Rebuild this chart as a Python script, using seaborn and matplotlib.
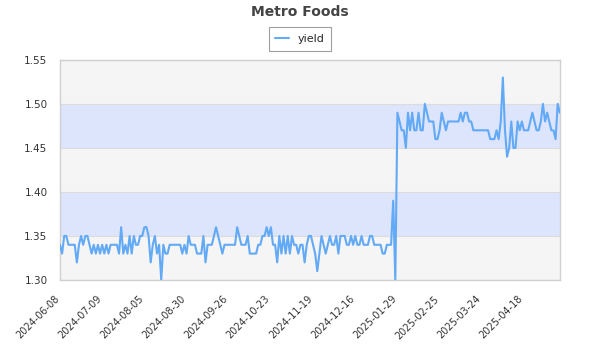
import numpy as np
import pandas as pd
import matplotlib
matplotlib.use("Agg")
import matplotlib.pyplot as plt
import matplotlib.transforms as mtransforms
import seaborn as sns

# Chart text
chart_title = "Metro Foods"
series_name = "yield"

# Dates shown on the x axis (one label every 20 observations)
tick_dates = [
    "2024-06-08", "2024-07-09", "2024-08-05", "2024-08-30",
    "2024-09-26", "2024-10-23", "2024-11-19", "2024-12-16",
    "2025-01-29", "2025-02-25", "2025-03-24", "2025-04-18",
]
tick_every = 20

# Daily yield observations
yield_values = [
    # 2024-06-08 ..
    1.34, 1.33, 1.35, 1.35, 1.34, 1.34, 1.34, 1.34, 1.32, 1.34,
    1.35, 1.34, 1.35, 1.35, 1.34, 1.33, 1.34, 1.33, 1.34, 1.33,
    # 2024-07-09 ..
    1.34, 1.33, 1.34, 1.33, 1.34, 1.34, 1.34, 1.34, 1.33, 1.36,
    1.33, 1.34, 1.33, 1.35, 1.33, 1.35, 1.34, 1.34, 1.35, 1.35,
    # 2024-08-05 ..
    1.36, 1.36, 1.35, 1.32, 1.34, 1.35, 1.33, 1.34, 1.30, 1.34,
    1.33, 1.33, 1.34, 1.34, 1.34, 1.34, 1.34, 1.34, 1.33, 1.34,
    # 2024-08-30 ..
    1.33, 1.35, 1.34, 1.34, 1.34, 1.33, 1.33, 1.33, 1.35, 1.32,
    1.34, 1.34, 1.34, 1.35, 1.36, 1.35, 1.34, 1.33, 1.34, 1.34,
    # 2024-09-26 ..
    1.34, 1.34, 1.34, 1.34, 1.36, 1.35, 1.34, 1.34, 1.34, 1.35,
    1.33, 1.33, 1.33, 1.33, 1.34, 1.34, 1.35, 1.35, 1.36, 1.35,
    # 2024-10-23 ..
    1.36, 1.34, 1.34, 1.32, 1.35, 1.33, 1.35, 1.33, 1.35, 1.33,
    1.35, 1.34, 1.34, 1.33, 1.34, 1.34, 1.32, 1.34, 1.35, 1.35,
    # 2024-11-19 ..
    1.34, 1.33, 1.31, 1.33, 1.35, 1.34, 1.33, 1.34, 1.35, 1.34,
    1.34, 1.35, 1.33, 1.35, 1.35, 1.35, 1.34, 1.34, 1.35, 1.34,
    # 2024-12-16 ..
    1.35, 1.34, 1.34, 1.35, 1.34, 1.34, 1.34, 1.35, 1.35, 1.34,
    1.34, 1.34, 1.34, 1.33, 1.33, 1.34, 1.34, 1.34, 1.39, 1.30,
    # 2025-01-29 ..
    1.49, 1.48, 1.47, 1.47, 1.45, 1.49, 1.47, 1.49, 1.47, 1.47,
    1.49, 1.47, 1.47, 1.50, 1.49, 1.48, 1.48, 1.48, 1.46, 1.46,
    # 2025-02-25 ..
    1.47, 1.49, 1.48, 1.47, 1.48, 1.48, 1.48, 1.48, 1.48, 1.48,
    1.49, 1.48, 1.49, 1.49, 1.48, 1.48, 1.47, 1.47, 1.47, 1.47,
    # 2025-03-24 ..
    1.47, 1.47, 1.47, 1.47, 1.46, 1.46, 1.46, 1.47, 1.46, 1.48,
    1.53, 1.47, 1.44, 1.45, 1.48, 1.45, 1.45, 1.48, 1.47, 1.48,
    # 2025-04-18 ..
    1.47, 1.47, 1.47, 1.48, 1.49, 1.48, 1.47, 1.47, 1.48, 1.50,
    1.48, 1.49, 1.48, 1.47, 1.47, 1.46, 1.50, 1.49,
]

y_min, y_max, y_step = 1.30, 1.55, 0.05

line_color = "#62a9f6"
band_gray = "#f5f5f5"
band_blue = "#dde5fd"
grid_color = "#dcdcdc"
text_color = "#333333"

sns.set_theme(style="white")
plt.rcParams["font.family"] = ["DejaVu Sans"]

df = pd.DataFrame({
    "obs": np.arange(len(yield_values)),
    series_name: yield_values,
})

fig = plt.figure(figsize=(6, 3.5), dpi=100)
ax = fig.add_axes([0.1, 0.2, 0.833, 0.629])
ax.set_facecolor(band_gray)

# Alternating horizontal bands between the y gridlines
edges = np.round(np.arange(y_min, y_max + y_step / 2, y_step), 2)
for k in range(len(edges) - 1):
    if k % 2 == 1:
        ax.axhspan(edges[k], edges[k + 1], color=band_blue, zorder=0, lw=0)
for e in edges:
    ax.axhline(e, color=grid_color, lw=0.8, zorder=0.5)

sns.lineplot(data=df, x="obs", y=series_name, ax=ax, color=line_color,
             linewidth=1.5, label=series_name, zorder=3)

ax.set_xlim(0, len(yield_values) - 1)
ax.set_ylim(y_min, y_max)
ax.set_yticks(edges)
ax.set_yticklabels([f"{v:.2f}" for v in edges], fontsize=7.5, color=text_color)
ax.set_xticks(np.arange(0, len(tick_dates) * tick_every, tick_every))
ax.set_xticklabels(tick_dates, rotation=45, ha="right", rotation_mode="anchor",
                   fontsize=7, color=text_color)
ax.tick_params(axis="y", length=0, pad=9)
ax.tick_params(axis="x", length=0, pad=10)

# nudge the rotated date labels slightly left of their tick
shift = mtransforms.ScaledTranslation(-6 / 100, 0, fig.dpi_scale_trans)
for lbl in ax.get_xticklabels():
    lbl.set_transform(lbl.get_transform() + shift)

ax.set_xlabel("")
ax.set_ylabel("")

for side in ax.spines.values():
    side.set_color("#d0d0d0")
    side.set_linewidth(1.0)

leg = ax.legend(loc="center", bbox_to_anchor=(0.5, 0.889),
                bbox_transform=fig.transFigure, frameon=True, fancybox=False,
                edgecolor="#888888", handlelength=1.2, fontsize=8,
                borderpad=0.6, handletextpad=0.8)
leg.get_frame().set_linewidth(0.8)

fig.text(0.5, 0.965, chart_title, ha="center", va="center",
         fontsize=10, fontweight="bold", color="#444444")

fig.savefig("out.png", dpi=100)
